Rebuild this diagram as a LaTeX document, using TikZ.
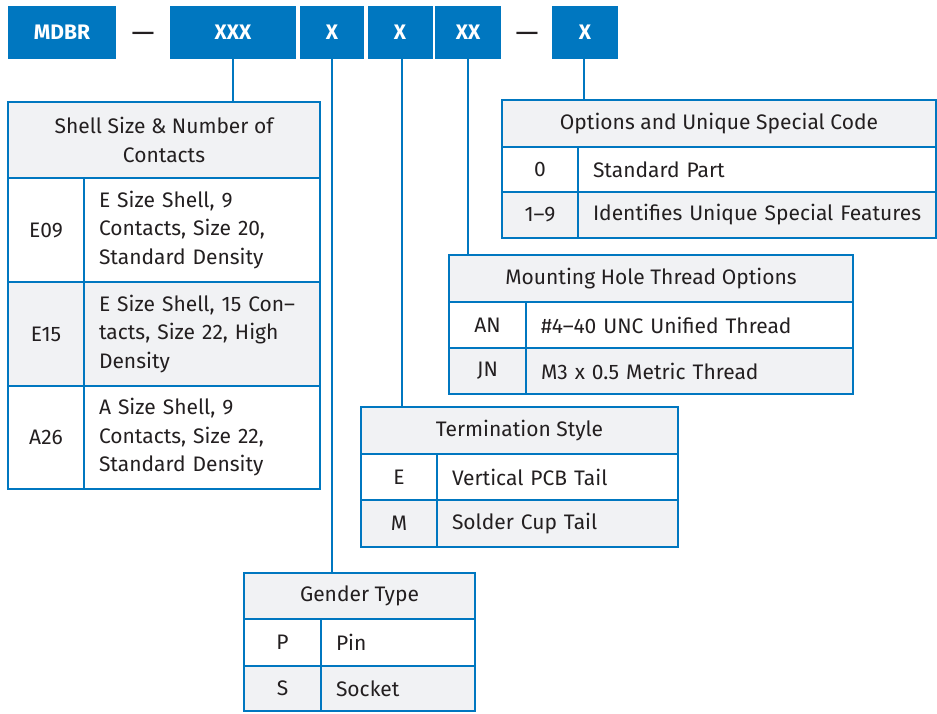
\documentclass[tikz,border=0pt]{standalone}
\usepackage{fontspec}
\setmainfont{Fira Sans}
\usetikzlibrary{positioning}
\definecolor{mblue}{HTML}{0077C0}
\definecolor{mgray}{HTML}{F1F2F4}
\definecolor{mtext}{HTML}{231F20}

\begin{document}
\begin{tikzpicture}[x=1pt, y=-1pt, font=\fontsize{21}{28.5}\selectfont, text=mtext,
	code box/.style={fill=mblue, text=white, inner sep=0pt, minimum height=53, font=\fontsize{21}{25}\selectfont\bfseries},
	dash box/.style={inner sep=0pt, font=\fontsize{29}{30}\selectfont},
	cell/.style={draw=mblue, line width=2.8pt, inner sep=0pt, align=center},
	desc/.style={cell, align=left, inner xsep=15pt},
	link/.style={draw=mblue, line width=2.8pt}]
	\useasboundingbox (0,0) rectangle (937,713);

	%part number code boxes
	\node[code box, minimum width=108] (mdbr) at (62,32.5) {MDBR};
	\node[dash box] (dashA) at (143,37) {---};
	\node[code box, minimum width=126] (shell) at (233,32.5) {XXX};
	\node[code box, minimum width=64] (gender) at (332,32.5) {X};
	\node[code box, minimum width=65] (term) at (400,32.5) {X};
	\node[code box, minimum width=66] (mount) at (468,32.5) {XX};
	\node[dash box] (dashB) at (527,37) {---};
	\node[code box, minimum width=66] (option) at (585,32.5) {X};

	%shell size table
	\node[cell, fill=mgray, minimum width=312, minimum height=76] (shellhead) at (164,140) {Shell Size \& Number of\\Contacts};
	\node[cell, minimum width=76, minimum height=104] (e09) at (46,230) {E09};
	\node[desc, text width=206, minimum height=104] (e09d) at (202,230) {E Size Shell, 9\\Contacts, Size 20,\\Standard Density};
	\node[cell, fill=mgray, minimum width=76, minimum height=104] (e15) at (46,334) {E15};
	\node[desc, fill=mgray, text width=206, minimum height=104] (e15d) at (202,334) {E Size Shell, 15 Con--\\tacts, Size 22, High\\Density};
	\node[cell, minimum width=76, minimum height=103] (a26) at (46,437.5) {A26};
	\node[desc, text width=206, minimum height=103] (a26d) at (202,437.5) {A Size Shell, 9\\Contacts, Size 22,\\Standard Density};

	%options table
	\node[cell, fill=mgray, minimum width=434, minimum height=47] (opthead) at (719,123.5) {Options and Unique Special Code};
	\node[cell, minimum width=76, minimum height=45] (opt0) at (540,169.5) {0};
	\node[desc, text width=328, minimum height=45] (opt0d) at (757,169.5) {Standard Part};
	\node[cell, fill=mgray, minimum width=76, minimum height=46] (opt1) at (540,215) {1--9};
	\node[desc, fill=mgray, text width=328, minimum height=46] (opt1d) at (757,215) {\mbox{Identifies Unique Special Features}};

	%mounting hole table
	\node[cell, fill=mgray, minimum width=404, minimum height=47] (mounthead) at (651,278.5) {Mounting Hole Thread Options};
	\node[cell, minimum width=77, minimum height=46] (an) at (487.5,325) {AN};
	\node[desc, text width=297, minimum height=46] (and) at (689.5,325) {\#4--40 UNC Unified Thread};
	\node[cell, fill=mgray, minimum width=77, minimum height=46] (jn) at (487.5,371) {JN};
	\node[desc, fill=mgray, text width=297, minimum height=46] (jnd) at (689.5,371) {M3 x 0.5 Metric Thread};

	%termination table
	\node[cell, fill=mgray, minimum width=317, minimum height=47] (termhead) at (519.5,430.5) {Termination Style};
	\node[cell, minimum width=76, minimum height=46] (te) at (399,477) {E};
	\node[desc, text width=211, minimum height=46] (ted) at (557.5,477) {Vertical PCB Tail};
	\node[cell, fill=mgray, minimum width=76, minimum height=47] (tm) at (399,523.5) {M};
	\node[desc, fill=mgray, text width=211, minimum height=47] (tmd) at (557.5,523.5) {Solder Cup Tail};

	%gender table
	\node[cell, fill=mgray, minimum width=231, minimum height=46] (genhead) at (359.5,596) {Gender Type};
	\node[cell, minimum width=77, minimum height=47] (gp) at (282.5,642.5) {P};
	\node[desc, text width=124, minimum height=47] (gpd) at (398,642.5) {Pin};
	\node[cell, fill=mgray, minimum width=77, minimum height=45] (gs) at (282.5,688.5) {S};
	\node[desc, fill=mgray, text width=124, minimum height=45] (gsd) at (398,688.5) {Socket};

	%connectors
	\draw[link] (shell.south) -- (shell.south |- shellhead.north);
	\draw[link] (gender.south) -- (gender.south |- genhead.north);
	\draw[link] ([xshift=2]term.south) -- ([xshift=2]term.south |- termhead.north);
	\draw[link] (mount.south) -- (mount.south |- mounthead.north);
	\draw[link] ([xshift=-1]option.south) -- ([xshift=-1]option.south |- opthead.north);
\end{tikzpicture}
\end{document}
